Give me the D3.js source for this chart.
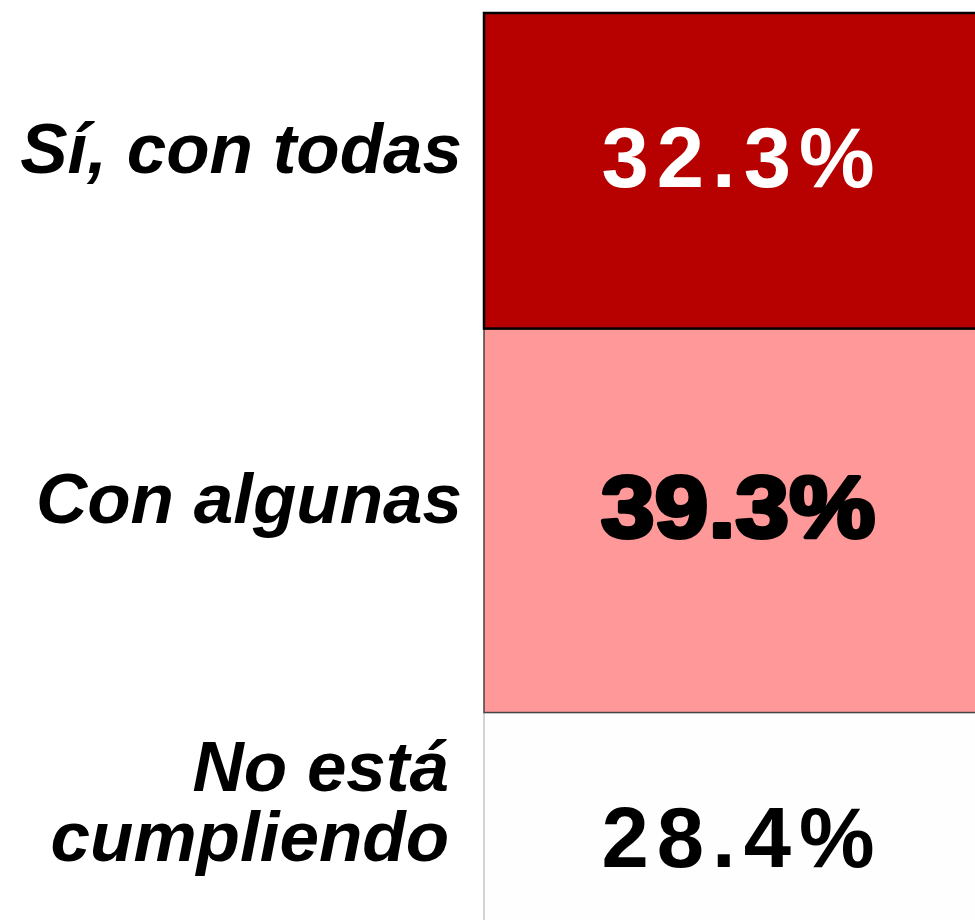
<!DOCTYPE html>
<html>
<head>
<meta charset="utf-8">
<script src="https://cdn.jsdelivr.net/npm/d3@7"></script>
<style>
  html, body { margin: 0; padding: 0; background: #fff; }
  svg { display: block; }
</style>
</head>
<body>
<svg></svg>
<script>
var width = 975, height = 920;

// data
var categories = [["Sí, con todas"], ["Con algunas"], ["No está", "cumpliendo"]];
var values = [32.3, 39.3, 28.4];
var fills = ["#b70000", "#ff9999", "#fefefe"];
var strokes = ["#000", "#444", "#aaa"];
var strokeWidths = [2.5, 1.5, 1];
var valueColors = ["#fff", "#000", "#000"];

var svg = d3.select("svg")
	.attr("width", width)
	.attr("height", height);

// stacked positions
var stacked = [];
var acc = 0;
values.forEach(function(v, i) {
	stacked.push({ cat: categories[i], value: v, y0: acc, y1: acc + v, i: i });
	acc += v;
});

var y = d3.scaleLinear()
	.domain([0, d3.sum(values)])
	.range([13, 990]);

var x = d3.scaleBand()
	.domain(["total"])
	.range([484, 992])
	.padding(0);

// draw from bottom to top so the dark border of the top segment stays visible
svg.append("g")
	.selectAll("rect")
	.data(stacked.slice().reverse())
	.enter()
	.append("rect")
	.attr("x", x("total"))
	.attr("width", x.bandwidth())
	.attr("y", function(d) { return y(d.y0); })
	.attr("height", function(d) { return y(d.y1) - y(d.y0); })
	.attr("fill", function(d) { return fills[d.i]; })
	.attr("stroke", function(d) { return strokes[d.i]; })
	.attr("stroke-width", function(d) { return strokeWidths[d.i]; });

function mid(d) { return (y(d.y0) + y(d.y1)) / 2; }

// value labels
var xc = x("total") + x.bandwidth() / 2;
svg.append("g")
	.selectAll("text")
	.data(stacked)
	.enter()
	.append("text")
	.attr("text-anchor", "middle")
	.attr("font-family", "'Liberation Sans', Arial, sans-serif")
	.attr("font-weight", "bold")
	.attr("fill", function(d) { return valueColors[d.i]; })
	.attr("font-size", function(d) { return d.i == 1 ? 88 : 85; })
	.attr("letter-spacing", function(d) { return d.i == 1 ? 0 : 8; })
	.attr("stroke", function(d) { return d.i == 1 ? "#000" : "none"; })
	.attr("stroke-width", 4)
	.attr("stroke-linejoin", "round")
	.attr("transform", function(d) {
		var sx = d.i == 1 ? 1.1 : 1;
		var dx = d.i == 1 ? 0 : 4;
		return "translate(" + (xc + dx) + "," + (mid(d) + 16) + ") scale(" + sx + ",1)";
	})
	.text(function(d) { return d.value.toFixed(1) + "%"; });

// category labels
var lineH = 70;
var cat = svg.append("g")
	.selectAll("text")
	.data(stacked)
	.enter()
	.append("text")
	.attr("text-anchor", "end")
	.attr("font-family", "'Liberation Sans', Arial, sans-serif")
	.attr("font-weight", "bold")
	.attr("font-style", "italic")
	.attr("font-size", 71)
	.attr("fill", "#000")
	.attr("transform", function(d) {
		var n = d.cat.length;
		var xr = n > 1 ? 449 : 462;
		var base = n > 1 ? mid(d) + 10 : mid(d) + 2;
		return "translate(" + xr + "," + base + ")";
	});

cat.selectAll("tspan")
	.data(function(d) {
		var n = d.cat.length;
		return d.cat.map(function(t, j) { return { t: t, dy: (j - (n - 1)) * lineH }; });
	})
	.enter()
	.append("tspan")
	.attr("x", 0)
	.attr("y", function(d) { return d.dy; })
	.text(function(d) { return d.t; });
</script>
</body>
</html>
